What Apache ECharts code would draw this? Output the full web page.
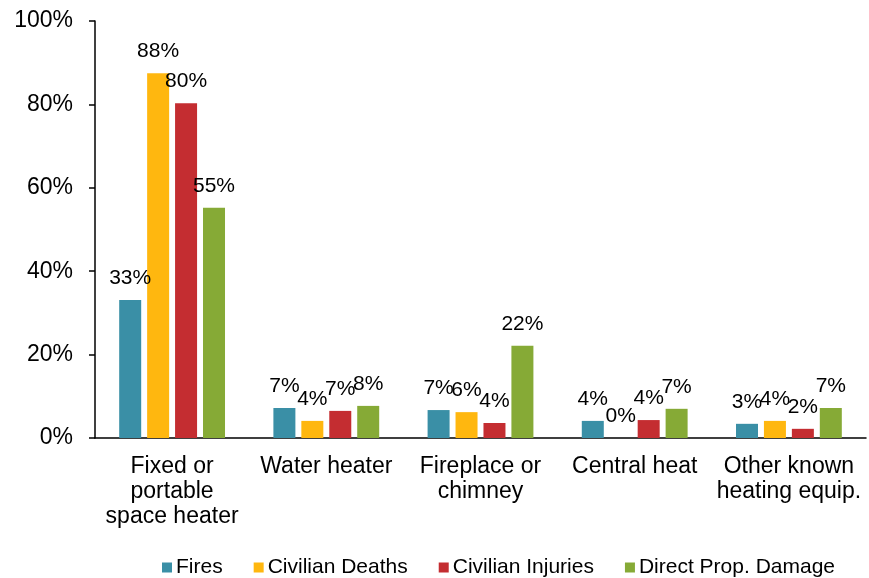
<!DOCTYPE html>
<html>
<head>
<meta charset="utf-8">
<script src="https://cdn.jsdelivr.net/npm/echarts@6/dist/echarts.min.js"></script>
<style>html,body{margin:0;padding:0;background:#fff;}#c{width:869px;height:578px;}</style>
</head>
<body>
<div id="c"></div>
<script>
const categories = ['Fixed or\nportable\nspace heater', 'Water heater', 'Fireplace or\nchimney', 'Central heat', 'Other known\nheating equip.'];
const seriesNames = ['Fires', 'Civilian Deaths', 'Civilian Injuries', 'Direct Prop. Damage'];
const fires = [33.1, 7.2, 6.7, 4.1, 3.4];
const civilianDeaths = [87.5, 4.1, 6.2, 0, 4.1];
const civilianInjuries = [80.3, 6.5, 3.6, 4.3, 2.2];
const directPropDamage = [55.2, 7.7, 22.1, 7.0, 7.2];
const yTicks = [0, 20, 40, 60, 80, 100];

const colors = ['#3A8FA6', '#FFB70F', '#C42D31', '#86AA36'];
const FONT = '"Liberation Sans", Arial, sans-serif';
const dataSets = [fires, civilianDeaths, civilianInjuries, directPropDamage];

const chart = echarts.init(document.getElementById('c'), null, {renderer: 'canvas'});
chart.setOption({
  animation: false,
  color: colors,
  textStyle: {fontFamily: FONT},
  grid: {left: 95, right: 3, top: 21, bottom: 140},
  legend: {
    top: 552,
    left: 157,
    itemWidth: 10,
    itemHeight: 10,
    itemGap: 31,
    icon: 'rect',
    textStyle: {fontSize: 21, color: '#000', fontFamily: FONT, padding: [0, 0, 0, -1]},
    data: seriesNames
  },
  xAxis: {
    type: 'category',
    data: categories,
    axisLine: {lineStyle: {color: '#000', width: 1.5}},
    axisTick: {show: false},
    axisLabel: {fontSize: 23, color: '#000', lineHeight: 25, margin: 16, interval: 0, fontFamily: FONT}
  },
  yAxis: {
    type: 'value',
    min: yTicks[0],
    max: yTicks[yTicks.length - 1],
    interval: 20,
    splitLine: {show: false},
    axisLine: {show: true, lineStyle: {color: '#000', width: 1.5}},
    axisTick: {show: true, length: 6, lineStyle: {color: '#000', width: 1.5}},
    axisLabel: {fontSize: 23, color: '#000', margin: 22, formatter: '{value}%', fontFamily: FONT}
  },
  series: seriesNames.map((name, i) => ({
    name: name,
    type: 'bar',
    data: dataSets[i],
    barWidth: 22,
    barGap: '27%',
    label: {
      show: true,
      position: 'top',
      distance: 11,
      fontSize: 21,
      color: '#000',
      fontFamily: FONT,
      formatter: p => Math.round(p.value) + '%'
    }
  }))
});
</script>
</body>
</html>
